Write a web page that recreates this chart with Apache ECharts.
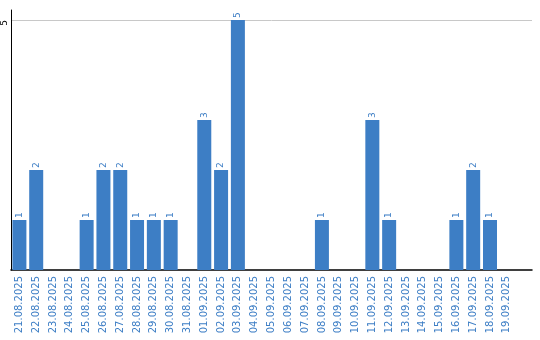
<!DOCTYPE html>
<html><head><meta charset="utf-8">
<script src="https://cdn.jsdelivr.net/npm/echarts@6/dist/echarts.min.js"></script>
<style>html,body{margin:0;padding:0;background:#fff}#c{width:540px;height:340px}</style>
</head><body><div id="c"></div>
<script>
var categories = ['21.08.2025','22.08.2025','23.08.2025','24.08.2025','25.08.2025','26.08.2025','27.08.2025','28.08.2025','29.08.2025','30.08.2025','31.08.2025','01.09.2025','02.09.2025','03.09.2025','04.09.2025','05.09.2025','06.09.2025','07.09.2025','08.09.2025','09.09.2025','10.09.2025','11.09.2025','12.09.2025','13.09.2025','14.09.2025','15.09.2025','16.09.2025','17.09.2025','18.09.2025','19.09.2025'];
var values = [1,2,0,0,1,2,2,1,1,1,0,3,2,5,0,0,0,0,1,0,0,3,1,0,0,0,1,2,1,0];
var yTicks = [5];
var blue = '#3d7ec5';
var chart = echarts.init(document.getElementById('c'));
chart.setOption({
  animation: false,
  grid: {left: 9, right: 8, top: 10, bottom: 70, containLabel: false},
  xAxis: {
    type: 'category', data: categories, max: 30,
    axisLine: {lineStyle: {color: '#000', width: 1.5}},
    axisTick: {show: false},
    axisLabel: {rotate: 90, interval: 0, color: blue, fontFamily: 'DejaVu Sans', fontSize: 10, margin: 6,
      formatter: function(v){ return categories.indexOf(v) >= 0 ? v : ''; }}
  },
  yAxis: {
    type: 'value', min: 0, max: 5.2, interval: 5,
    axisLine: {show: true, lineStyle: {color: '#000', width: 1}},
    axisTick: {show: false},
    axisLabel: {rotate: 90, color: '#000', fontFamily: 'DejaVu Sans', fontSize: 9, margin: 2, padding: [0, 6, 0, 0],
      formatter: function(v){ return yTicks.indexOf(v) >= 0 ? String(v) : ''; }},
    splitLine: {show: true, lineStyle: {color: ['rgba(0,0,0,0)', '#c8c8c8', 'rgba(0,0,0,0)'], width: 1}}
  },
  series: [{
    type: 'bar', data: values, barWidth: 14,
    itemStyle: {color: blue},
    label: {show: true, position: 'top', rotate: 90, align: 'left', verticalAlign: 'middle', distance: 2,
      color: blue, fontFamily: 'DejaVu Sans', fontSize: 9,
      formatter: function(p){ return p.value ? String(p.value) : ''; }}
  }]
});
</script></body></html>
